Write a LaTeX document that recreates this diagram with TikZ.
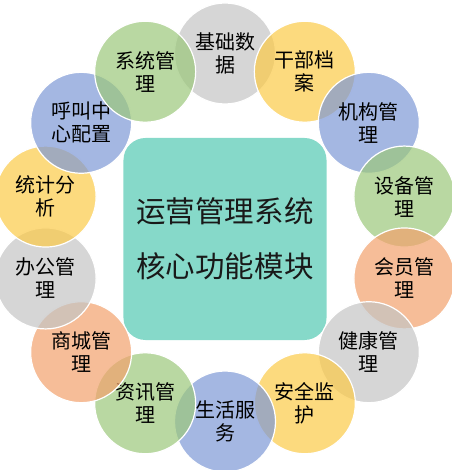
\documentclass[tikz,border=0pt]{standalone}
\usepackage{fontspec}
\setmainfont{Noto Sans CJK SC}
\definecolor{cgray}{HTML}{C4C4C4}
\definecolor{cyellow}{HTML}{FBCA47}
\definecolor{cblue}{HTML}{7D98D6}
\definecolor{cgreen}{HTML}{9BC77A}
\definecolor{corange}{HTML}{F2A16C}
\definecolor{cteal}{HTML}{86D9C9}
\tikzset{
	core/.style = {rectangle, rounded corners=22pt, fill=cteal, align=center,
		minimum width=203pt, minimum height=202pt, inner sep=0pt,
		font=\fontsize{29.5}{55}\selectfont, text=black!90},
	module/.style = {circle, draw=white, line width=1.2pt, fill opacity=0.7,
		text opacity=1, minimum size=101pt, inner sep=0pt, align=center,
		font=\fontsize{20}{23}\selectfont, text=black}
}

\begin{document}
\begin{tikzpicture}[x=1pt, y=1pt]
\useasboundingbox (-225,237.5) rectangle (226,-232.5);
\node (C) [core] at (0,-1.5) {运营管理系统\\核心功能模块};
%----------------- Modules around the core --------------
\foreach \nm/\txt/\col [count=\i from 0] in {
		base/基础数\\据/cgray, cadre/干部档\\案/cyellow, org/机构管\\理/cblue,
		equip/设备管\\理/cgreen, member/会员管\\理/corange, health/健康管\\理/cgray,
		safety/安全监\\护/cyellow, life/生活服\\务/cblue, news/资讯管\\理/cgreen,
		mall/商城管\\理/corange, office/办公管\\理/cgray, stats/统计分\\析/cyellow,
		call/呼叫中\\心配置/cblue, sys/系统管\\理/cgreen}
	\node (\nm) [module, fill=\col] at ({90-\i*360/14}:184) {\txt};
\end{tikzpicture}
\end{document}
